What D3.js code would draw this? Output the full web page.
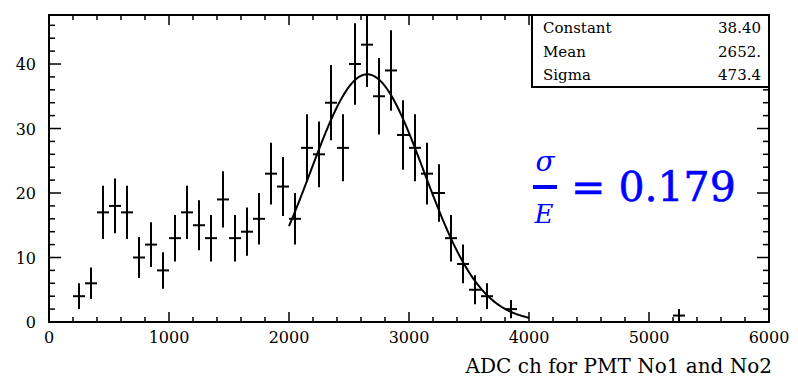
<!DOCTYPE html>
<html>
<head>
<meta charset="utf-8">
<script src="https://cdn.jsdelivr.net/npm/d3@7"></script>
<style>
  html, body { margin: 0; padding: 0; background: #fff; }
  svg { display: block; font-family: "DejaVu Serif", serif; }
</style>
</head>
<body>
<svg id="chart" width="798" height="382"></svg>
<script>
// histogram bins (centre of each filled 100-ch bin) and their counts
const adcCh = [250, 350, 450, 550, 650, 750, 850, 950, 1050, 1150,
  1250, 1350, 1450, 1550, 1650, 1750, 1850, 1950, 2050, 2150,
  2250, 2350, 2450, 2550, 2650, 2750, 2850, 2950, 3050, 3150,
  3250, 3350, 3450, 3550, 3650, 3850, 5250];
const counts = [4, 6, 17, 18, 17, 10, 12, 8, 13, 17,
  15, 13, 19, 13, 14, 16, 23, 21, 16, 27,
  26, 34, 27, 40, 43, 35, 39, 29, 27, 23,
  20, 13, 9, 5, 4, 2, 1];
const binWidth = 100;

// gaussian fit result
const fitConstant = 38.40, fitMean = 2652, fitSigma = 473.4;
const fitRange = [2000, 4000];

const statNames = ["Constant", "Mean", "Sigma"];
const statValues = ["38.40", "2652.", "473.4"];

const xTicks = [0, 1000, 2000, 3000, 4000, 5000, 6000];
const yTicks = [0, 10, 20, 30, 40];

const svg = d3.select("#chart");
const fr = { left: 49, right: 769, top: 15, bottom: 322 };

const x = d3.scaleLinear().domain([0, 6000]).range([fr.left, fr.right]);
const y = d3.scaleLinear().domain([0, 47.6]).range([fr.bottom, fr.top]);

const plot = svg.append("g");
plot.append("clipPath").attr("id", "clip")
  .append("rect").attr("x", fr.left).attr("y", fr.top)
  .attr("width", fr.right - fr.left).attr("height", fr.bottom - fr.top);

// ticks, ROOT style: inside the frame, mirrored on top and right
const xMinor = d3.range(0, 6001, 200);
const yMinor = d3.range(0, 47.6, 2);
const isMajX = (v) => v % 1000 === 0;
const isMajY = (v) => v % 10 === 0;

const tickG = plot.append("g").attr("stroke", "#000").attr("stroke-width", 1.5);
tickG.selectAll(".xb").data(xMinor).join("line")
  .attr("x1", (d) => x(d)).attr("x2", (d) => x(d))
  .attr("y1", fr.bottom).attr("y2", (d) => fr.bottom - (isMajX(d) ? 10 : 5));
tickG.selectAll(".xt").data(xMinor).join("line")
  .attr("x1", (d) => x(d)).attr("x2", (d) => x(d))
  .attr("y1", fr.top).attr("y2", (d) => fr.top + (isMajX(d) ? 10 : 5));
tickG.selectAll(".yl").data(yMinor).join("line")
  .attr("y1", (d) => y(d)).attr("y2", (d) => y(d))
  .attr("x1", fr.left).attr("x2", (d) => fr.left + (isMajY(d) ? 12 : 6));
tickG.selectAll(".yr").data(yMinor).join("line")
  .attr("y1", (d) => y(d)).attr("y2", (d) => y(d))
  .attr("x1", fr.right).attr("x2", (d) => fr.right - (isMajY(d) ? 12 : 6));

// frame
plot.append("rect")
  .attr("x", fr.left).attr("y", fr.top)
  .attr("width", fr.right - fr.left).attr("height", fr.bottom - fr.top)
  .attr("fill", "none").attr("stroke", "#000").attr("stroke-width", 2);

// tick labels
plot.append("g").selectAll("text").data(xTicks).join("text")
  .attr("x", (d) => x(d)).attr("y", 343)
  .attr("text-anchor", "middle").attr("font-size", 16)
  .text((d) => d);
plot.append("g").selectAll("text").data(yTicks).join("text")
  .attr("x", 36).attr("y", (d) => y(d) + 6)
  .attr("text-anchor", "end").attr("font-size", 16)
  .text((d) => d);

svg.append("text")
  .attr("x", 772).attr("y", 373)
  .attr("text-anchor", "end").attr("font-size", 20)
  .text("ADC ch for PMT No1 and No2");

// histogram with poisson error bars
const bins = adcCh.map((c, i) => ({ c: c, n: counts[i], e: Math.sqrt(counts[i]) }));
const hist = plot.append("g").attr("clip-path", "url(#clip)")
  .attr("stroke", "#000").attr("stroke-width", 2);
hist.selectAll(".ex").data(bins).join("line")
  .attr("x1", (d) => x(d.c - binWidth / 2)).attr("x2", (d) => x(d.c + binWidth / 2))
  .attr("y1", (d) => y(d.n)).attr("y2", (d) => y(d.n));
hist.selectAll(".ey").data(bins).join("line")
  .attr("x1", (d) => x(d.c)).attr("x2", (d) => x(d.c))
  .attr("y1", (d) => y(d.n - d.e)).attr("y2", (d) => y(d.n + d.e));

// fitted gaussian
const gaus = (v) => fitConstant * Math.exp(-0.5 * ((v - fitMean) / fitSigma) ** 2);
const fitPts = d3.range(fitRange[0], fitRange[1] + 1, 10);
plot.append("path")
  .datum(fitPts)
  .attr("fill", "none").attr("stroke", "#000").attr("stroke-width", 2)
  .attr("d", d3.line().x((d) => x(d)).y((d) => y(gaus(d))));

// stats box
const box = svg.append("g");
box.append("rect")
  .attr("x", 532).attr("y", fr.top).attr("width", fr.right - 532).attr("height", 87 - fr.top)
  .attr("fill", "#fff").attr("stroke", "#000").attr("stroke-width", 2);
statNames.forEach((s, i) => {
  box.append("text").attr("x", 543).attr("y", 33 + i * 23.5)
    .attr("font-size", 15).text(s);
  box.append("text").attr("x", 761).attr("y", 33 + i * 23.5)
    .attr("font-size", 15).attr("text-anchor", "end").text(statValues[i]);
});

// resolution label
const blue = "#0000ff";
const lab = svg.append("g").attr("fill", blue);
lab.append("text").attr("x", 545).attr("y", 171)
  .attr("text-anchor", "middle").attr("font-size", 28).attr("font-style", "italic")
  .text("σ");
lab.append("rect").attr("x", 533).attr("y", 185).attr("width", 24).attr("height", 4);
lab.append("text").attr("x", 544).attr("y", 223)
  .attr("text-anchor", "middle").attr("font-size", 26).attr("font-style", "italic")
  .text("E");
lab.append("text").attr("x", 571).attr("y", 201)
  .attr("font-size", 41).attr("stroke", blue).attr("stroke-width", 0.6)
  .text("= 0.179");
</script>
</body>
</html>
